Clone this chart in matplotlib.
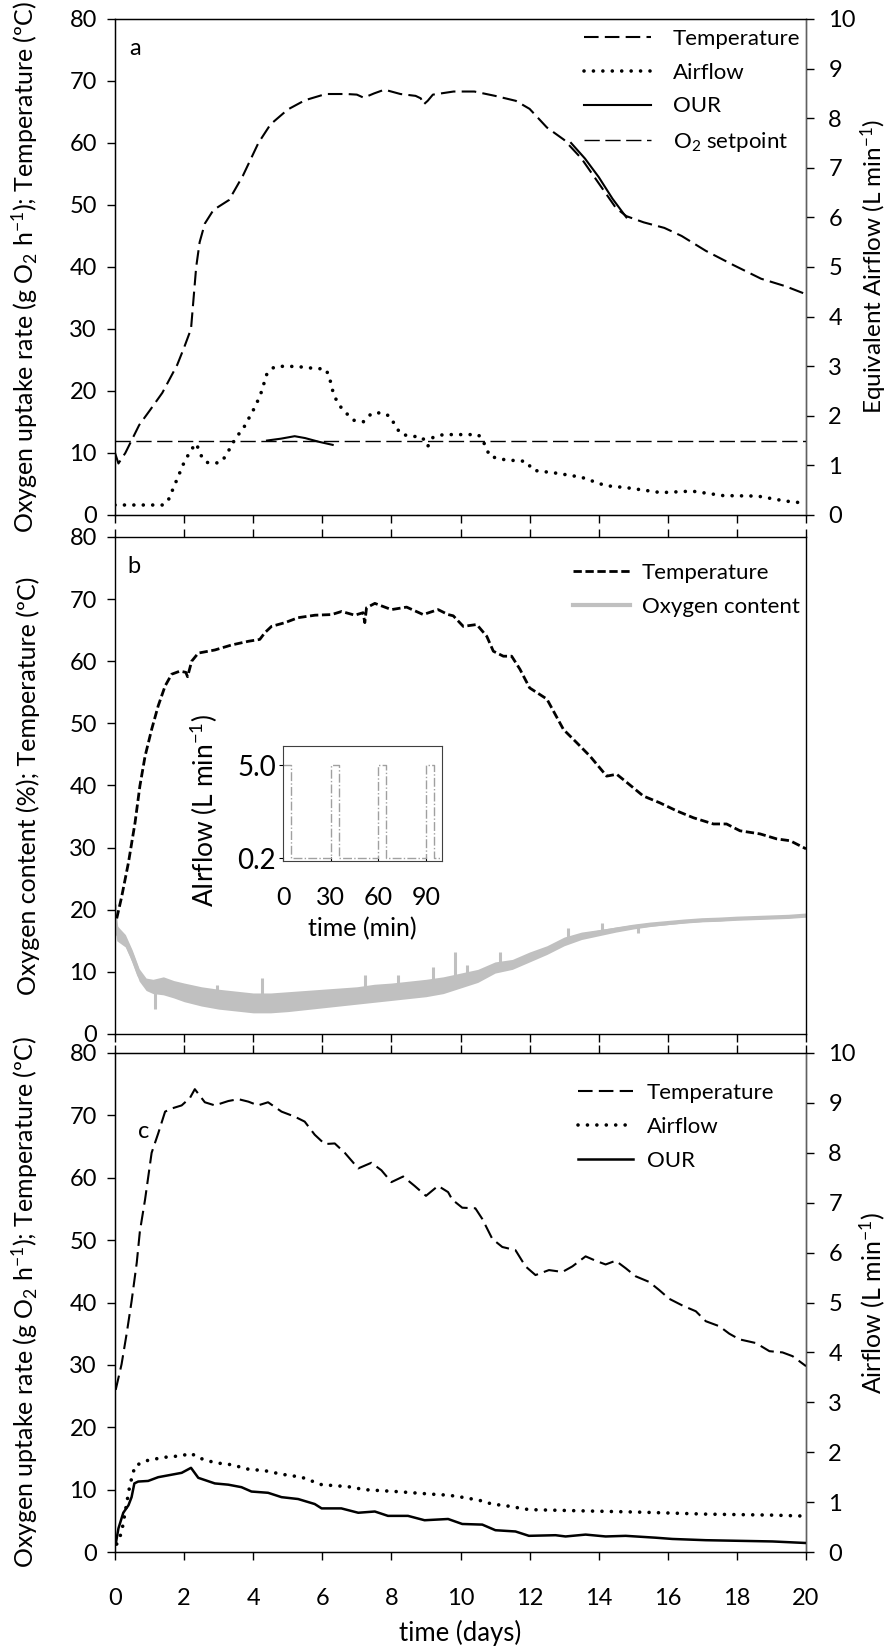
"""
Composting runs: temperature, airflow, OUR and oxygen content vs time (3 panels)
"""
import numpy as np
import matplotlib
matplotlib.use("Agg")
import matplotlib.pyplot as plt
from matplotlib.lines import Line2D

plt.rcParams["font.family"] = ["Lato", "DejaVu Sans"]
plt.rcParams["mathtext.fontset"] = "custom"
plt.rcParams["mathtext.rm"] = "Lato"
plt.rcParams["mathtext.it"] = "Lato"
plt.rcParams["font.size"] = 17
plt.rcParams["legend.fontsize"] = 16

# ---- panel a ----
temp_a_days = [0, 0.1, 0.3, 0.7, 1.0, 1.37, 1.8, 2.0, 2.2, 2.35, 2.45, 2.6, 2.85, 3.3, 3.7, 4.15,
               4.5, 5.0, 5.5, 6.1, 6.7, 7.0, 7.2, 7.5, 7.8, 8.26, 8.7, 8.85, 8.93, 9.05, 9.2,
               9.8, 10.4, 11.0, 11.6, 12.0, 12.5, 13.0, 13.5, 14.0, 14.5, 14.8, 15.3, 15.9,
               16.4, 17.1, 17.9, 18.7, 19.4, 20.0]
temp_a = [10, 8.3, 10, 14.5, 16.8, 19.7, 24.2, 27, 30, 40, 44, 47, 49.2, 50.8, 54.7, 60,
          63, 65.4, 66.9, 67.9, 67.9, 67.8, 67.3, 68, 68.6, 67.9, 67.6, 67.2, 66.2, 66.8, 67.8,
          68.3, 68.3, 67.6, 66.8, 65.5, 62.5, 60.5, 57.5, 53.5, 49.5, 48.2, 47.2, 46.3,
          45, 42.6, 40.3, 38.1, 36.9, 35.6]

air_a_days = [0, 1.4, 1.55, 1.7, 1.85, 2.0, 2.2, 2.35, 2.5, 2.65, 2.9, 3.1, 3.3, 3.5, 3.71,
              4.0, 4.2, 4.39, 4.6, 4.9, 5.3, 5.7, 6.1, 6.2, 6.32, 6.45, 6.61, 6.9, 7.19, 7.43,
              7.72, 7.96, 8.15, 8.3, 8.5, 8.9, 9.05, 9.2, 9.5, 10.0, 10.5, 10.6, 10.7, 10.85,
              11.3, 11.9, 12.1, 12.8, 13.5, 14.2, 14.8, 15.8, 16.7, 17.6, 18.6, 19.4, 19.8, 20.0]
air_a = [0.20, 0.20, 0.31, 0.56, 0.81, 1.06, 1.31, 1.44, 1.19, 1.06, 1.04, 1.08, 1.31, 1.56, 1.74,
         2.11, 2.40, 2.83, 2.98, 3.00, 2.99, 2.96, 2.94, 2.79, 2.45, 2.25, 2.11, 1.91, 1.88, 2.05,
         2.06, 1.99, 1.75, 1.62, 1.60, 1.56, 1.38, 1.56, 1.62, 1.62, 1.62, 1.56, 1.42, 1.18,
         1.11, 1.08, 0.90, 0.84, 0.76, 0.59, 0.55, 0.45, 0.48, 0.39, 0.38, 0.28, 0.25, 0.18]

our_a1_days = [4.4, 4.8, 5.2, 5.5, 5.9, 6.3]
our_a1 = [12.0, 12.3, 12.7, 12.4, 11.8, 11.3]
our_a2_days = [13.2, 13.6, 14.0, 14.4, 14.8]
our_a2 = [60, 57.5, 54.5, 51, 48]

O2_SETPOINT = 12

# ---- panel b ----
temp_b_days = [0.05, 0.19, 0.39, 0.58, 0.72, 0.87, 1.06, 1.25, 1.45, 1.64, 1.88, 2.05, 2.1, 2.22,
               2.41, 2.89, 3.37, 3.86, 4.19, 4.34, 4.53, 4.92, 5.3, 5.79, 6.27, 6.56, 6.94, 7.18,
               7.23, 7.28, 7.52, 8.0, 8.44, 8.92, 9.35, 9.64, 9.79, 10.08, 10.47, 10.76, 10.95,
               11.24, 11.48, 11.72, 12.0, 12.5, 12.98, 13.36, 13.75, 14.23, 14.52, 14.81, 15.29,
               15.77, 16.26, 16.74, 17.32, 17.7, 18.09, 18.67, 19.15, 19.54, 20.0]
temp_b = [18.6, 22, 27.6, 34, 39.9, 44.7, 49, 52.8, 56, 57.9, 58.4, 58.2, 57.5, 60,
          61.3, 61.8, 62.6, 63.2, 63.5, 64.6, 65.6, 66.2, 67, 67.4, 67.5, 68, 67.4, 67.8,
          66.2, 68.6, 69.3, 68.3, 68.7, 67.5, 68.3, 67.5, 67.3, 65.6, 65.9, 64, 61.6,
          60.8, 60.8, 58.7, 55.7, 53.9, 49, 46.9, 44.7, 41.5, 41.8, 40.5, 38.3,
          37.2, 35.9, 34.8, 33.8, 33.8, 32.7, 32.2, 31.4, 31.1, 29.8]

o2_days = [0, 0.05, 0.3, 0.5, 0.7, 0.9, 1.1, 1.4, 1.7, 2.0, 2.5, 3.0, 3.5, 4.0, 4.5, 5.0, 5.5,
           6.0, 6.5, 7.0, 7.5, 8.0, 8.5, 9.0, 9.5, 10.0, 10.5, 11.0, 11.5, 12.0, 12.5, 13.0,
           13.5, 14.0, 14.5, 15.0, 15.5, 16.0, 16.5, 17.0, 17.5, 18.0, 18.5, 19.0, 19.5, 20.0]
o2_high = [20.5, 17.5, 16, 13.5, 10.5, 9, 8.8, 9.2, 8.6, 8.2, 7.6, 7.2, 6.9, 6.6, 6.6, 6.8, 7.0,
           7.2, 7.4, 7.6, 8.0, 8.2, 8.5, 8.8, 9.2, 9.8, 10.4, 11.6, 12.0, 13.2, 14.2, 15.6,
           16.4, 16.8, 17.2, 17.6, 17.9, 18.1, 18.3, 18.5, 18.6, 18.7, 18.8, 18.9, 19.0, 19.2]
o2_low = [17.5, 15, 14, 11.5, 8.5, 7, 6.5, 6.3, 5.8, 5.2, 4.5, 4.0, 3.7, 3.4, 3.4, 3.6, 3.9,
          4.2, 4.5, 4.8, 5.1, 5.4, 5.7, 6.0, 6.5, 7.4, 8.3, 9.8, 10.4, 11.6, 12.8, 14.2,
          15.2, 15.8, 16.4, 16.9, 17.3, 17.6, 17.9, 18.1, 18.2, 18.4, 18.5, 18.6, 18.7, 18.9]

spike_days = [0.0, 1.15, 2.95, 4.25, 7.25, 8.2, 9.2, 9.85, 10.2, 11.15, 13.1, 14.1, 15.15]
spike_base = [18, 7.5, 5.5, 5.5, 6.5, 7.0, 8.0, 9.0, 9.0, 10.5, 15.0, 16.5, 17.5]
spike_tip = [21, 4.0, 7.9, 9.0, 9.5, 9.5, 10.8, 13.2, 11.1, 13.2, 17.0, 17.8, 16.3]

# inset: cyclic airflow
inset_min = [0, 5, 30, 35, 60, 65, 90, 95, 100]
inset_flow = [5.0, 0.2, 5.0, 0.2, 5.0, 0.2, 5.0, 0.2, 0.2]

# ---- panel c ----
temp_c_days = [0.02, 0.19, 0.34, 0.48, 0.63, 0.72, 0.87, 1.06, 1.25, 1.45, 1.64, 1.93, 2.17, 2.31,
               2.6, 2.89, 3.28, 3.57, 3.86, 4.14, 4.43, 4.82, 5.2, 5.49, 5.78, 6.07, 6.36, 6.65,
               7.04, 7.42, 7.71, 8.0, 8.34, 8.67, 9.0, 9.35, 9.64, 9.76, 10.05, 10.43, 10.63,
               10.92, 11.21, 11.59, 11.88, 12.17, 12.56, 12.95, 13.24, 13.62, 13.91, 14.2, 14.49,
               14.78, 15.07, 15.46, 15.75, 16.04, 16.43, 16.81, 17.1, 17.49, 17.78, 18.07, 18.55,
               18.94, 19.32, 19.61, 20.0]
temp_c = [26.0, 30.1, 35.1, 40.2, 46.4, 51.4, 56.5, 64, 67.1, 70.6, 71.1, 71.6, 72.8, 74.2,
          72.1, 71.6, 72.3, 72.6, 72.2, 71.6, 72.1, 70.6, 69.8, 69, 66.9, 65.4, 65.5, 64,
          61.5, 62.4, 61.2, 59.3, 60.2, 58.7, 57.1, 58.7, 57.7, 56.5, 55.2, 55.1, 53.4,
          50.2, 48.9, 48.4, 45.8, 44.4, 45.2, 44.9, 45.8, 47.4, 46.7, 46.1, 46.7,
          45.5, 44.2, 43.3, 42, 40.6, 39.5, 38.6, 37, 36.2, 35, 34.1, 33.5,
          32.2, 32.0, 31.4, 29.8]

air_c_days = [0.05, 0.19, 0.43, 0.58, 0.96, 1.45, 1.93, 2.2, 2.41, 2.89, 3.37, 3.86, 4.34, 4.82,
              5.4, 5.98, 6.75, 7.23, 8.19, 9.16, 9.64, 9.95, 10.53, 10.92, 11.3, 11.98, 13.24,
              15.17, 17.1, 19.03, 20.0]
air_c = [0.16, 0.39, 1.34, 1.73, 1.84, 1.90, 1.93, 1.98, 1.89, 1.79, 1.75, 1.66, 1.63, 1.56,
         1.50, 1.35, 1.31, 1.25, 1.21, 1.16, 1.14, 1.11, 1.04, 0.96, 0.93, 0.85, 0.83,
         0.80, 0.76, 0.74, 0.72]

our_c_days = [0.02, 0.1, 0.24, 0.39, 0.48, 0.56, 0.67, 0.96, 1.25, 1.64, 1.93, 2.2, 2.41, 2.89,
              3.28, 3.66, 3.95, 4.43, 4.82, 5.3, 5.78, 5.98, 6.55, 7.04, 7.52, 7.9, 8.48, 8.96,
              9.64, 10.05, 10.63, 11.01, 11.59, 11.98, 12.75, 13.04, 13.62, 14.2, 14.78, 15.65,
              16.13, 17.1, 19.03, 20.0]
our_c = [1.25, 3.8, 6.3, 7.5, 8.8, 11, 11.3, 11.4, 12, 12.4, 12.7, 13.5, 11.9, 11,
         10.8, 10.4, 9.7, 9.5, 8.8, 8.5, 7.7, 7.0, 7.0, 6.3, 6.5, 5.8, 5.8, 5.1,
         5.3, 4.5, 4.4, 3.5, 3.3, 2.6, 2.7, 2.5, 2.8, 2.5, 2.6, 2.3,
         2.1, 1.9, 1.7, 1.45]

DASH_LONG = (0, (7, 3))
DASH_SHORT = (0, (3.0, 1.3))
DOTS = (0, (0.01, 2.6))
GRAY = "#c0c0c0"

LEFT, WIDTH = 0.1295, 0.7782


def style_axes(ax, top_ticks, bottom_labels):
    ax.set_xlim(0, 20)
    ax.set_ylim(0, 80)
    ax.set_xticks(np.arange(0, 21, 2))
    ax.set_yticks(np.arange(0, 81, 10))
    ax.tick_params(axis="y", direction="out", length=6, width=1, pad=7)
    ax.tick_params(axis="x", direction="out", length=6, width=1, pad=20,
                   top=top_ticks, labelbottom=bottom_labels)
    for s in ax.spines.values():
        s.set_linewidth(1)


def right_axis(ax, label, size, xpos):
    ax2 = ax.twinx()
    ax2.set_ylim(0, 10)
    ax2.set_yticks(np.arange(0, 11, 1))
    ax2.tick_params(axis="y", direction="out", length=6, width=1, pad=10)
    ax2.spines["right"].set_color("#606060")
    ax2.set_ylabel(label, fontsize=size)
    ax2.yaxis.set_label_coords(xpos, 0.5)
    return ax2


def panel_a(fig):
    ax = fig.add_axes([LEFT, 0.6883, WIDTH, 0.3002])
    style_axes(ax, top_ticks=False, bottom_labels=False)
    ax2 = right_axis(ax, "Equivalent Airflow (L min$^{-1}$)", 17.5, 1.076)

    t, = ax.plot(temp_a_days, temp_a, color="k", lw=1.5, ls=DASH_LONG)
    a, = ax2.plot(air_a_days, air_a, color="k", lw=2.6, ls=DOTS, dash_capstyle="round")
    o, = ax.plot(our_a1_days, our_a1, color="k", lw=1.5)
    ax.plot(our_a2_days, our_a2, color="k", lw=1.5)
    s = ax.axhline(O2_SETPOINT, color="k", lw=1, ls=(0, (11, 4)))

    ax.set_ylabel("Oxygen uptake rate (g O$_2$ h$^{-1}$); Temperature (ºC)", fontsize=18)
    ax.yaxis.set_label_coords(-0.108, 0.5)
    ax.text(0.029, 0.94, "a", transform=ax.transAxes, ha="center", va="center")
    ax.legend([t, a, o, s], ["Temperature", "Airflow", "OUR", "O$_2$ setpoint"],
              loc="upper left", bbox_to_anchor=(0.679, 0.980), frameon=False,
              borderpad=0, borderaxespad=0, handlelength=3.0, handletextpad=1.0,
              labelspacing=0.62)


def panel_b(fig):
    ax = fig.add_axes([LEFT, 0.3741, WIDTH, 0.3009])
    style_axes(ax, top_ticks=True, bottom_labels=False)

    ax.fill_between(o2_days, o2_low, o2_high, color=GRAY, lw=0)
    o2_mid = (np.array(o2_low) + np.array(o2_high)) / 2
    ax.plot(o2_days, o2_mid, color=GRAY, lw=3)
    ax.vlines(spike_days, spike_base, spike_tip, color=GRAY, lw=2.2)
    ax.plot(temp_b_days, temp_b, color="k", lw=2.0, ls=DASH_SHORT)

    ax.set_ylabel("Oxygen content (%); Temperature (ºC)", fontsize=18)
    ax.yaxis.set_label_coords(-0.108, 0.5)
    ax.text(0.027, 0.94, "b", transform=ax.transAxes, ha="center", va="center")
    handles = [Line2D([], [], color="k", lw=2.0, ls=DASH_SHORT),
               Line2D([], [], color=GRAY, lw=3)]
    ax.legend(handles, ["Temperature", "Oxygen content"],
              loc="upper left", bbox_to_anchor=(0.663, 0.948), frameon=False,
              borderpad=0, borderaxespad=0, handlelength=2.57, handletextpad=0.52,
              labelspacing=0.65)

    # inset with the cyclic airflow
    axi = fig.add_axes([0.3187, 0.4788, 0.1787, 0.0696])
    axi.step(inset_min, inset_flow, where="post", color="#a0a0a0", lw=1, ls="-.")
    axi.set_xlim(0, 100)
    axi.set_ylim(0.05, 6.0)
    axi.set_xticks([0, 30, 60, 90])
    axi.set_yticks([0.2, 5.0])
    axi.set_yticklabels(["0.2", "5.0"])
    axi.tick_params(axis="x", direction="in", length=3, labelsize=18, pad=18)
    axi.tick_params(axis="y", direction="out", length=3, labelsize=20, pad=2)
    for sp in axi.spines.values():
        sp.set_color("#404040")
        sp.set_linewidth(0.8)
    axi.set_xlabel("time (min)", fontsize=18)
    axi.xaxis.set_label_coords(0.5, -0.49)
    axi.set_ylabel("AIrflow (L min$^{-1}$)", fontsize=19)
    axi.yaxis.set_label_coords(-0.40, 0.44)


def panel_c(fig):
    ax = fig.add_axes([LEFT, 0.0605, WIDTH, 0.3021])
    style_axes(ax, top_ticks=True, bottom_labels=True)
    ax2 = right_axis(ax, "Airflow (L min$^{-1}$)", 18, 1.074)

    t, = ax.plot(temp_c_days, temp_c, color="k", lw=1.5, ls=DASH_LONG)
    a, = ax2.plot(air_c_days, air_c, color="k", lw=2.6, ls=DOTS, dash_capstyle="round")
    o, = ax.plot(our_c_days, our_c, color="k", lw=1.8)

    ax.set_ylabel("Oxygen uptake rate (g O$_2$ h$^{-1}$); Temperature (ºC)", fontsize=18)
    ax.yaxis.set_label_coords(-0.108, 0.5)
    ax.set_xlabel("time (days)", fontsize=18.5)
    ax.xaxis.set_label_coords(0.5, -0.136)
    ax.text(0.042, 0.842, "c", transform=ax.transAxes, ha="center", va="center")
    ax.legend([t, a, o], ["Temperature", "Airflow", "OUR"],
              loc="upper left", bbox_to_anchor=(0.670, 0.9405), frameon=False,
              borderpad=0, borderaxespad=0, handlelength=2.48, handletextpad=0.63,
              labelspacing=0.63)


def main():
    fig = plt.figure(figsize=(8.88, 16.52), dpi=100)
    panel_a(fig)
    panel_b(fig)
    panel_c(fig)
    fig.savefig("out.png", dpi=100)


if __name__ == "__main__":
    main()
